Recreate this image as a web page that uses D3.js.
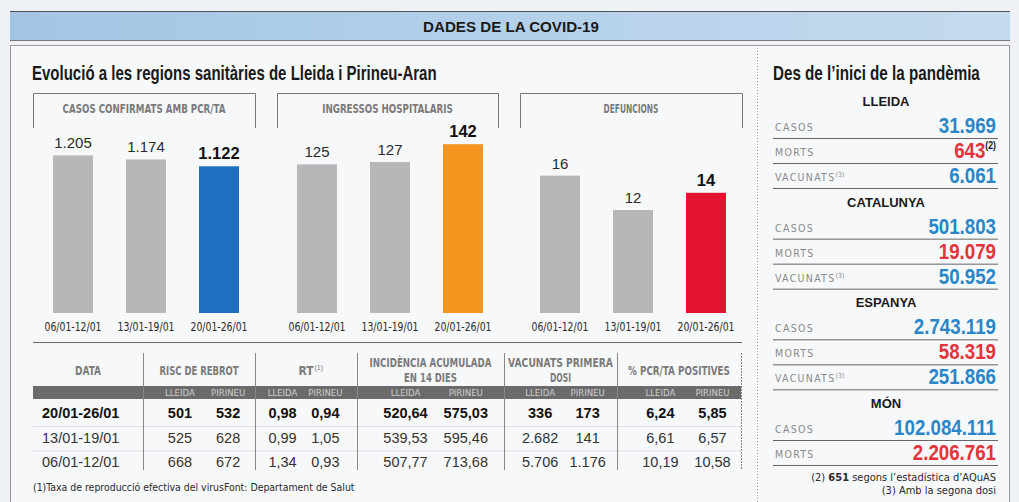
<!DOCTYPE html>
<html><head><meta charset="utf-8">
<script src="https://cdn.jsdelivr.net/npm/d3@7"></script>
<style>
body{margin:0;background:#eef2f6;}
svg{display:block;}
text{font-family:"Liberation Sans",Arial,sans-serif;}
.cond{font-family:"Liberation Sans Narrow","DejaVu Sans Condensed","Roboto Condensed",sans-serif;}
</style></head><body><div id="chart"></div>
<script>
// --- data ---
const periods = ["06/01-12/01", "13/01-19/01", "20/01-26/01"];
const casos = [1205, 1174, 1122];
const ingressos = [125, 127, 142];
const defuncions = [16, 12, 14];

const tableDates = ["20/01-26/01", "13/01-19/01", "06/01-12/01"];
const risc = [[501, 532], [525, 628], [668, 672]];
const rt = [[0.98, 0.94], [0.99, 1.05], [1.34, 0.93]];
const incidencia = [[520.64, 575.03], [539.53, 595.46], [507.77, 713.68]];
const vacunatsDosi = [[336, 173], [2682, 141], [5706, 1176]];
const pcrPositives = [[6.24, 5.85], [6.61, 6.57], [10.19, 10.58]];
const zones = ["LLEIDA", "PIRINEU"];

const regions = ["LLEIDA", "CATALUNYA", "ESPANYA", "MÓN"];
const casosTotals = [31969, 501803, 2743119, 102084111];
const mortsTotals = [643, 19079, 58319, 2206761];
const vacunatsTotals = [6061, 50952, 251866, null];

const loc = d3.formatLocale({decimal: ",", thousands: ".", grouping: [3], currency: ["", "€"]});
const fInt = loc.format(",d"), fDec = loc.format(",.2f");

const W = 1019, H = 502;
const svg = d3.select("#chart").append("svg").attr("width", W).attr("height", H);
const fit = (sel, w) => sel.attr("textLength", w).attr("lengthAdjust", "spacingAndGlyphs");
// squeeze horizontally with a transform so the box really is the drawn width
function squeeze(sel, x, y, k) {
  sel.attr("x", 0).attr("y", 0).attr("transform", `translate(${x},${y}) scale(${k},1)`);
}
function squeezeTo(sel, x, y, w) {
  const n = sel.node().getComputedTextLength();
  squeeze(sel, x, y, w / n);
}

// header band
const grad = svg.append("defs").append("linearGradient").attr("id", "hdr");
grad.append("stop").attr("offset", "0%").attr("stop-color", "#a3c5e4");
grad.append("stop").attr("offset", "100%").attr("stop-color", "#c4dbef");
svg.append("rect").attr("x", 10).attr("y", 12).attr("width", 1000).attr("height", 28).attr("fill", "url(#hdr)");
svg.append("line").attr("x1", 10).attr("x2", 1010).attr("y1", 11.5).attr("y2", 11.5).attr("stroke", "#555");
svg.append("line").attr("x1", 10).attr("x2", 1010).attr("y1", 40.5).attr("y2", 40.5).attr("stroke", "#777");
svg.append("text").attr("text-anchor", "middle")
  .attr("font-size", 15).attr("font-weight", "bold").attr("fill", "#1a1a1a")
  .text("DADES DE LA COVID-19").call(squeezeTo, 511, 32, 176);

// panel
svg.append("rect").attr("x", 10.5).attr("y", 45.5).attr("width", 999).attr("height", 460)
  .attr("fill", "#f7f8fa").attr("stroke", "#999");
svg.append("line").attr("x1", 757.5).attr("x2", 757.5).attr("y1", 48).attr("y2", 502)
  .attr("stroke", "#999").attr("stroke-dasharray", "1,2");

svg.append("text").attr("font-size", 19.5).attr("font-weight", "bold")
  .attr("fill", "#1a1a1a").text("Evolució a les regions sanitàries de Lleida i Pirineu-Aran")
  .call(squeezeTo, 32, 80, 405);

// bar panels
const base = 313, topY = 143;
const panels = [
  {title: "CASOS CONFIRMATS AMB PCR/TA", values: casos, color: "#1f6fc0", max: 1300, x0: 33, x1: 255, tw: 163, c0: 73},
  {title: "INGRESSOS HOSPITALARIS", values: ingressos, color: "#f5941e", max: 143, x0: 277, x1: 498, tw: 131, c0: 317},
  {title: "DEFUNCIONS", values: defuncions, color: "#e3142f", max: 19.8, x0: 520, x1: 742, tw: 55, c0: 560}
];
panels.forEach(p => {
  const g = svg.append("g");
  g.append("path").attr("d", `M${p.x0 + .5},128V93.5H${p.x1 + .5}V128`).attr("fill", "none").attr("stroke", "#777");
  g.append("text").attr("class", "cond").attr("text-anchor", "middle")
    .attr("font-size", 12).attr("font-weight", "bold").attr("fill", "#7a7a7a").text(p.title)
    .call(squeezeTo, (p.x0 + p.x1) / 2, 113, p.tw);
  const x = d3.scalePoint().domain(periods).range([p.c0, p.c0 + 146]);
  const y = d3.scaleLinear().domain([0, p.max]).range([base, topY]);
  const bw = 40;
  g.selectAll("rect.bar").data(p.values).enter().append("rect")
    .attr("x", (d, i) => x(periods[i]) - bw / 2).attr("y", d => y(d))
    .attr("width", bw).attr("height", d => base - y(d))
    .attr("fill", (d, i) => i === 2 ? p.color : "#b5b7b9");
  g.selectAll("text.val").data(p.values).enter().append("text")
    .attr("x", (d, i) => x(periods[i])).attr("y", d => y(d) - 7).attr("text-anchor", "middle")
    .attr("font-size", (d, i) => i === 2 ? 16.5 : 15).attr("font-weight", (d, i) => i === 2 ? "bold" : "normal")
    .attr("fill", (d, i) => i === 2 ? "#111" : "#2a2a2a").text(d => fInt(d));
  g.selectAll("text.per").data(periods).enter().append("text").attr("class", "cond")
    .attr("x", d => x(d)).attr("y", 331).attr("text-anchor", "middle")
    .attr("font-size", 11.5).attr("fill", "#2a2a2a").text(d => d).call(fit, 57);
});
svg.append("line").attr("x1", 33).attr("x2", 742).attr("y1", 342.5).attr("y2", 342.5).attr("stroke", "#666");

// table
const groups = [
  {title: ["RISC DE REBROT"], tw: [79], data: risc, fmt: fInt, x0: 143, x1: 255, a: 0.33, b: 0.76},
  {title: ["RT"], tw: [15], sup: "(1)", data: rt, fmt: fDec, x0: 255, x1: 357, a: 0.27, b: 0.69},
  {title: ["INCIDÈNCIA ACUMULADA", "EN 14 DIES"], tw: [122, 53], data: incidencia, fmt: fDec, x0: 357, x1: 504, a: 0.33, b: 0.74},
  {title: ["VACUNATS PRIMERA", "DOSI"], tw: [105, 21], data: vacunatsDosi, fmt: fInt, x0: 504, x1: 617, a: 0.32, b: 0.74},
  {title: ["% PCR/TA POSITIVES"], tw: [102], data: pcrPositives, fmt: fDec, x0: 617, x1: 741, a: 0.35, b: 0.77}
];
const rowY = d3.scalePoint().domain(tableDates).range([418, 467]);
svg.append("rect").attr("x", 33).attr("y", 386).attr("width", 708).attr("height", 13).attr("fill", "#6b6b6b");
rowY.domain().slice(0, 2).forEach(d => {
  svg.append("line").attr("x1", 33).attr("x2", 741).attr("y1", rowY(d) + 8.5).attr("y2", rowY(d) + 8.5)
    .attr("stroke", "#dde1e5");
});
svg.append("text").attr("class", "cond").attr("text-anchor", "middle")
  .attr("font-size", 13).attr("font-weight", "bold").attr("fill", "#7a7a7a").text("DATA")
  .call(squeezeTo, 88, 375, 26);
svg.selectAll("text.date").data(tableDates).enter().append("text")
  .attr("x", 42).attr("y", d => rowY(d)).attr("font-size", 14.5)
  .attr("font-weight", (d, i) => i === 0 ? "bold" : "normal").attr("fill", (d, i) => i === 0 ? "#111" : "#333")
  .text(d => d);

groups.forEach((gr, gi) => {
  const g = svg.append("g");
  const w = gr.x1 - gr.x0;
  g.append("line").attr("x1", gr.x0 + .5).attr("x2", gr.x0 + .5).attr("y1", 353).attr("y2", 470).attr("stroke", "#888");
  if (gi === groups.length - 1)
    g.append("line").attr("x1", gr.x1 + .5).attr("x2", gr.x1 + .5).attr("y1", 353).attr("y2", 470)
      .attr("stroke", "#888").attr("stroke-dasharray", "2,1");
  const cx = (gr.x0 + gr.x1) / 2;
  const ys = gr.title.length === 1 ? [375] : [367, 382];
  gr.title.forEach((s, k) => {
    const t = g.append("text").attr("class", "cond").attr("text-anchor", "middle")
      .attr("font-size", 13).attr("font-weight", "bold").attr("fill", "#7a7a7a").text(s)
      .call(squeezeTo, cx, ys[k], gr.tw[k]);
    if (gr.sup) g.append("text").attr("x", cx + gr.tw[k] / 2 + 1).attr("y", ys[k] - 5)
      .attr("font-size", 7).attr("fill", "#7a7a7a").text(gr.sup);
  });
  const x = d3.scalePoint().domain(zones).range([gr.x0 + gr.a * w, gr.x0 + gr.b * w]);
  g.selectAll("text.zone").data(zones).enter().append("text").attr("class", "cond")
    .attr("x", d => x(d)).attr("y", 396).attr("text-anchor", "middle")
    .attr("font-size", 9.5).attr("fill", "#cfcfcf").text(d => d);
  gr.data.forEach((row, ri) => {
    g.selectAll(null).data(row).enter().append("text")
      .attr("x", (d, k) => x(zones[k])).attr("y", rowY(tableDates[ri])).attr("text-anchor", "middle")
      .attr("font-size", 14.5).attr("font-weight", ri === 0 ? "bold" : "normal")
      .attr("fill", ri === 0 ? "#111" : "#333").text(d => gr.fmt(d));
  });
});
svg.append("text").attr("class", "cond")
  .attr("font-size", 10.5).attr("fill", "#2a2a2a")
  .text("(1)Taxa de reproducció efectiva del virusFont: Departament de Salut")
  .call(squeezeTo, 33, 491, 322);

// right panel
svg.append("text").attr("font-size", 19.5).attr("font-weight", "bold")
  .attr("fill", "#1a1a1a").text("Des de l’inici de la pandèmia").call(squeezeTo, 773, 80, 207);
const metrics = [
  {label: "CASOS", values: casosTotals, color: "#2a86c6"},
  {label: "MORTS", values: mortsTotals, color: "#e2343a", sup: ["(2)", null, null, null]},
  {label: "VACUNATS", lsup: "(3)", values: vacunatsTotals, color: "#2a86c6"}
];
const secY = d3.scalePoint().domain(regions).range([106, 408]);
regions.forEach((r, ri) => {
  const y0 = secY(r);
  svg.append("text").attr("x", 886).attr("y", y0).attr("text-anchor", "middle")
    .attr("font-size", 13).attr("font-weight", "bold").attr("fill", "#1a1a1a").text(r);
  metrics.filter(m => m.values[ri] != null).forEach((m, k) => {
    const yy = y0 + 25 + k * 25;
    const lt = svg.append("text").attr("class", "cond").attr("x", 775).attr("y", yy)
      .attr("font-size", 10.5).attr("letter-spacing", 1.3).attr("fill", "#8a8a8a").text(m.label);
    if (m.lsup) lt.append("tspan").attr("font-size", 7).attr("dy", -4).attr("letter-spacing", 0).text(m.lsup);
    const supTxt = m.sup && m.sup[ri];
    const vt = svg.append("text").attr("text-anchor", "end")
      .attr("font-size", 21.5).attr("font-weight", "bold").attr("fill", m.color);
    vt.append("tspan").text(fInt(m.values[ri]));
    if (supTxt) vt.append("tspan").attr("font-size", 10).attr("dy", -9).attr("fill", "#1a1a1a").text(supTxt);
    vt.call(squeeze, 996, yy + 2, 0.87);
    svg.append("line").attr("x1", 773).attr("x2", 998).attr("y1", yy + 7.5).attr("y2", yy + 7.5)
      .attr("stroke", "#666");
  });
});
const n2 = svg.append("text").attr("class", "cond").attr("x", 996).attr("y", 481).attr("text-anchor", "end")
  .attr("font-size", 11).attr("fill", "#2a2a2a");
n2.append("tspan").text("(2) ");
n2.append("tspan").attr("font-weight", "bold").text("651");
n2.append("tspan").text(" segons l’estadística d’AQuAS");
svg.append("text").attr("class", "cond").attr("x", 996).attr("y", 494).attr("text-anchor", "end")
  .attr("font-size", 11).attr("fill", "#2a2a2a").text("(3) Amb la segona dosi");
</script></body></html>
